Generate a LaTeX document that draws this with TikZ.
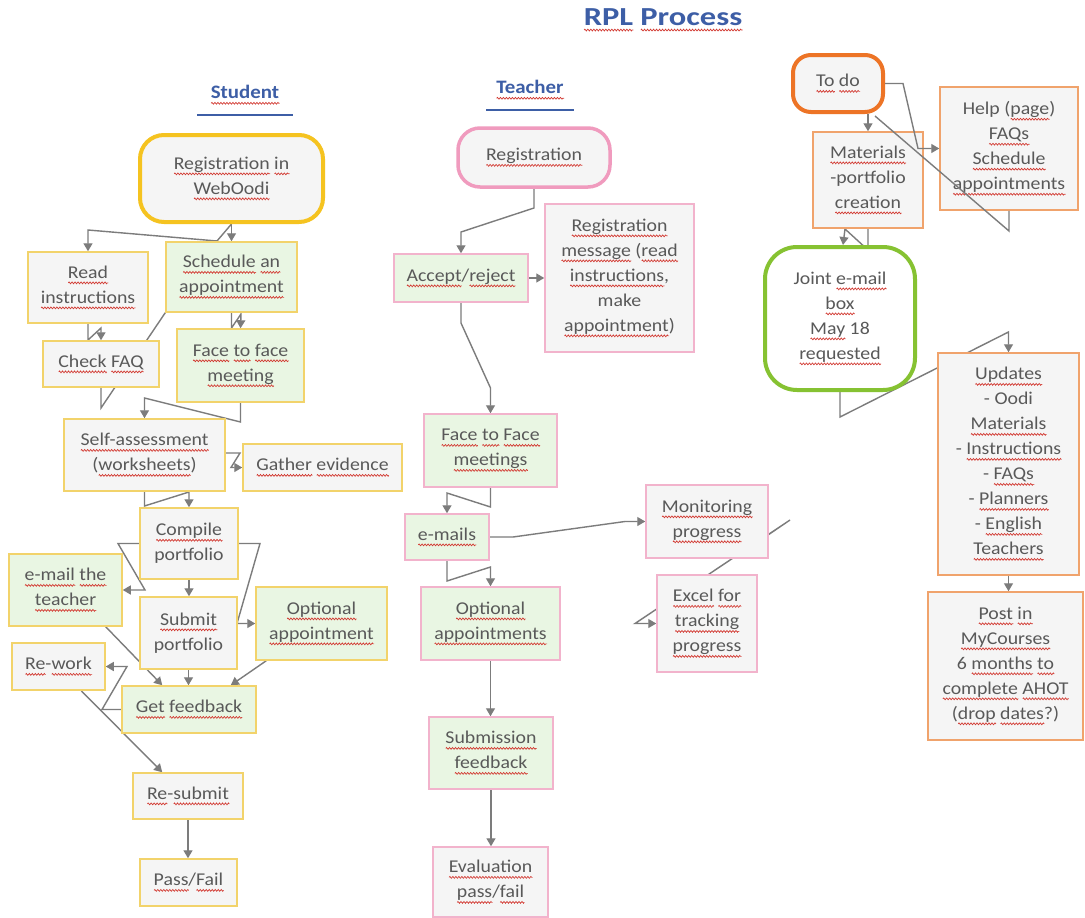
\documentclass[tikz,border=0pt]{standalone}
\usepackage{fontspec}
\setmainfont{Carlito}[FakeStretch=1.1]
\newfontfamily\titlefont{Carlito}[FakeStretch=1.25]
\usetikzlibrary{arrows.meta,calc,decorations.pathmorphing}
\pgfdeclarelayer{bg}
\pgfsetlayers{bg,main}
\definecolor{txt}{HTML}{595959}
\definecolor{ttl}{HTML}{3D5EA6}
\definecolor{ylw}{HTML}{F2D36B}
\definecolor{ylwT}{HTML}{F5C320}
\definecolor{pnk}{HTML}{F2B3CC}
\definecolor{pnkT}{HTML}{F09BBE}
\definecolor{org}{HTML}{F0A36C}
\definecolor{orgT}{HTML}{ED7426}
\definecolor{grnT}{HTML}{86C232}
\definecolor{fgray}{HTML}{F5F5F5}
\definecolor{fgreen}{HTML}{E9F6E3}
\definecolor{con}{HTML}{7C7C7C}
\definecolor{sq}{HTML}{D23A32}
% red wavy spell-check underline, drawn as a graphic
\newsavebox\wbox
\newcommand\w[1]{\sbox\wbox{#1}\leavevmode\rlap{\tikz[baseline=0pt,x=1pt,y=1pt,sharp corners]
  \draw[draw=sq,line width=0.7pt,sharp corners,decorate,decoration={zigzag,segment length=3pt,amplitude=0.9pt}]
  (0,-4.5) -- (\wd\wbox,-4.5);}\usebox\wbox}
\tikzset{
  base/.style={draw, align=center, text=txt, inner sep=2pt,
    font=\fontsize{18}{25}\selectfont},
  yg/.style={base, draw=ylw, line width=1.5pt, fill=fgray},
  yn/.style={base, draw=ylw, line width=1.5pt, fill=fgreen},
  pg/.style={base, draw=pnk, line width=1.5pt, fill=fgray},
  pn/.style={base, draw=pnk, line width=1.5pt, fill=fgreen},
  og/.style={base, draw=org, line width=1.5pt, fill=fgray},
  hdr/.style={text=ttl, font=\fontsize{19}{22}\selectfont\bfseries},
  hline/.style={draw=ttl, line width=1.5pt},
  con/.style={draw=con, line width=1.4pt},
  arr/.style={con, -{Triangle[width=9pt,length=8pt]}},
}
\begin{document}
\begin{tikzpicture}[x=1pt,y=-1pt]
\useasboundingbox (0,0) rectangle (1085,918);

% ---------- titles ----------
\node[text=ttl, font=\titlefont\fontsize{26}{30}\selectfont\bfseries] (title) at (663,20) {\w{RPL} \w{Process}};
\node[hdr] (stu) at (245,95) {\w{Student}};
\draw[hline] ($(stu.south)+(-48,7)$) -- ($(stu.south)+(48,7)$);
\node[hdr] (tea) at (530,90) {\w{Teacher}};
\draw[hline] ($(tea.south)+(-44,7)$) -- ($(tea.south)+(44,7)$);

% ---------- student ----------
\node[base, draw=ylwT, line width=4pt, fill=fgray, rounded corners=24pt,
      minimum width=183, minimum height=87] (regW) at (231.5,178.5) {\w{Registration} \w{in}\\\w{WebOodi}};
\node[yg, minimum width=120, minimum height=71] (readI) at (88,287.5) {\w{Read}\\\w{instructions}};
\node[yn, minimum width=131, minimum height=70] (sched) at (231.5,277) {\w{Schedule} \w{an}\\\w{appointment}};
\node[yg, minimum width=116, minimum height=46] (chk) at (101,364) {\w{Check} \w{FAQ}};
\node[yn, minimum width=127, minimum height=73] (f2f) at (240.5,365.5) {\w{Face} \w{to} \w{face}\\\w{meeting}};
\node[yg, minimum width=161, minimum height=72] (self) at (144.5,455) {\w{Self-assessment}\\(\w{worksheets})};
\node[yg, minimum width=159, minimum height=47] (gather) at (322.5,467.5) {\w{Gather} \w{evidence}};
\node[yg, minimum width=98, minimum height=71] (compile) at (189,543.5) {\w{Compile}\\portfolio};
\node[yn, minimum width=113, minimum height=72] (emailT) at (65.5,590) {\w{e-mail} \w{the}\\\w{teacher}};
\node[yg, minimum width=97, minimum height=72] (submit) at (188.5,633) {\w{Submit}\\portfolio};
\node[yn, minimum width=131, minimum height=73] (optA) at (321.5,623.5) {\w{Optional}\\\w{appointment}};
\node[yg, minimum width=93, minimum height=47] (rework) at (58.5,666.5) {\w{Re}-\w{work}};
\node[yn, minimum width=134, minimum height=47] (getFb) at (189,709.5) {\w{Get} \w{feedback}};
\node[yg, minimum width=110, minimum height=46] (resub) at (188,796) {\w{Re}-\w{submit}};
\node[yg, minimum width=97, minimum height=47] (pass) at (188.5,882.5) {\w{Pass}/\w{Fail}};

% ---------- teacher ----------
\node[base, draw=pnkT, line width=3.5pt, fill=fgray, rounded corners=22pt,
      minimum width=152, minimum height=59] (tReg) at (534,157.5) {\w{Registration}};
\node[pn, minimum width=134, minimum height=48] (accept) at (461,278) {\w{Accept}/\w{reject}};
\node[pg, minimum width=149, minimum height=148] (regMsg) at (619.5,278) {\w{Registration}\\\w{message} (\w{read}\\\w{instructions},\\make\\\w{appointment})};
\node[pn, minimum width=133, minimum height=73] (tF2F) at (490.5,450.5) {\w{Face} \w{to} \w{Face}\\\w{meetings}};
\node[pn, minimum width=84, minimum height=46] (emails) at (447,537) {\w{e-mails}};
\node[pg, minimum width=122, minimum height=73] (monit) at (707,521.5) {\w{Monitoring}\\\w{progress}};
\node[pg, minimum width=100, minimum height=97] (excel) at (707,623.5) {\w{Excel} \w{for}\\\w{tracking}\\\w{progress}};
\node[pn, minimum width=139, minimum height=73] (tOpt) at (490.5,623.5) {\w{Optional}\\\w{appointments}};
\node[pn, minimum width=124, minimum height=72] (subFb) at (491,753) {\w{Submission}\\\w{feedback}};
\node[pg, minimum width=115, minimum height=70] (evalPF) at (490.5,882) {\w{Evaluation}\\\w{pass}/\w{fail}};

% ---------- to do ----------
\node[base, draw=orgT, line width=4pt, fill=fgray, rounded corners=18pt,
      minimum width=90, minimum height=57] (todo) at (838,83.5) {\w{To} \w{do}};
\node[og, minimum width=138, minimum height=123] (help) at (1009,148.5) {Help (\w{page})\\\w{FAQs}\\\w{Schedule}\\\w{appointments}};
\node[og, minimum width=110, minimum height=96] (mater) at (868,180) {\w{Materials}\\-portfolio\\\w{creation}};
\node[base, draw=grnT, line width=4pt, fill=white, rounded corners=32pt,
      minimum width=150, minimum height=143] (joint) at (840,318.5) {Joint \w{e-mail}\\\w{box}\\\w{May} 18\\\w{requested}};
\node[og, minimum width=141, minimum height=222] (updates) at (1008.5,464) {\w{Updates}\\- Oodi\\\w{Materials}\\- \w{Instructions}\\- \w{FAQs}\\- \w{Planners}\\- \w{English}\\\w{Teachers}};
\node[og, minimum width=155, minimum height=148] (post) at (1005.5,666) {\w{Post} \w{in}\\\w{MyCourses}\\6 \w{months} \w{to}\\\w{complete} \w{AHOT}\\(\w{drop} \w{dates}?)};

% ---------- connectors behind boxes ----------
\begin{pgfonlayer}{bg}
\fill[white] (0,0) rectangle (1085,918);
% student
\draw[arr] (regW.south) -- (sched.north);
\draw[arr] (regW.south) -- (217,241) -- (88,230) -- (readI.north);
\draw[arr] (readI.south) -- (88,340) -- (101,328) -- (chk.north);
\draw[arr] (sched.south) -- (231.5,328) -- (241,314) -- (f2f.north);
\draw[con] (chk.south) -- (101,408) -- (sched.south west);
\draw[arr] (f2f.south) -- (240.5,422) -- (144.5,398) -- (self.north);
\draw[arr] ($(self.east)+(0,-2)$) -- (240,453) -- (231,467.5) -- (gather.west);
\draw[arr] (self.south) -- (144.5,506) -- (189,492) -- (compile.north);
\draw[arr] (compile.west) -- (118,543.5) -- (145,590) -- (emailT.east);
\draw[arr] (compile.south) -- (compile.south |- submit.north);
\draw[arr] (compile.east) -- (260,543.5) -- (237,623.5) -- (optA.west);
\draw[arr] ($(emailT.south east)+(-17,0)$) -- ($(getFb.north west)+(41,0)$);
\draw[arr] (submit.south) -- (submit.south |- getFb.north);
\draw[arr] ($(optA.south west)+(11,0)$) -- ($(getFb.north east)+(-26,0)$);
\draw[arr] (getFb.west) -- (102,709.5) -- (127,666.5) -- (rework.east);
\draw[arr] ($(rework.south west)+(70,0)$) -- ($(resub.north west)+(30,0)$);
\draw[arr] (resub.south) -- (resub.south |- pass.north);
% teacher
\draw[arr] (tReg.south) -- (534,208) -- (461,232) -- (accept.north);
\draw[arr] (accept.east) -- (regMsg.west);
\draw[arr] (accept.south) -- (461,323) -- (490.5,388) -- (tF2F.north);
\draw[arr] (tF2F.south) -- (490.5,507) -- (447,493) -- (emails.north);
\draw[arr] (emails.south) -- (447,581) -- (490.5,567) -- (tOpt.north);
\draw[arr] (emails.east) -- (513,537) -- (625,521.5) -- (monit.west);
\draw[arr] ($(monit.east)+(0,13)$) -- (790,520) -- (635,623.5) -- (excel.west);
\draw[arr] (tOpt.south) -- (tOpt.south |- subFb.north);
\draw[arr] (subFb.south) -- (subFb.south |- evalPF.north);
% to do
\draw[arr] (mater.north |- todo.south) -- (mater.north);
\draw[arr] (mater.south) -- (868,250) -- (845,229) -- ($(joint.north)+(3,0)$);
\draw[arr] (joint.south) -- (840,417) -- (1008.5,332) -- (updates.north);
\draw[arr] (updates.south) -- (updates.south |- post.north);
\end{pgfonlayer}

% ---------- connectors drawn over boxes ----------
\draw[arr] (todo.east) -- (903,83.5) -- (918,148.5) -- (help.west);
\draw[con] ($(todo.south east)+(-10,2)$) -- (1009,231) -- (help.south);
\end{tikzpicture}
\end{document}
